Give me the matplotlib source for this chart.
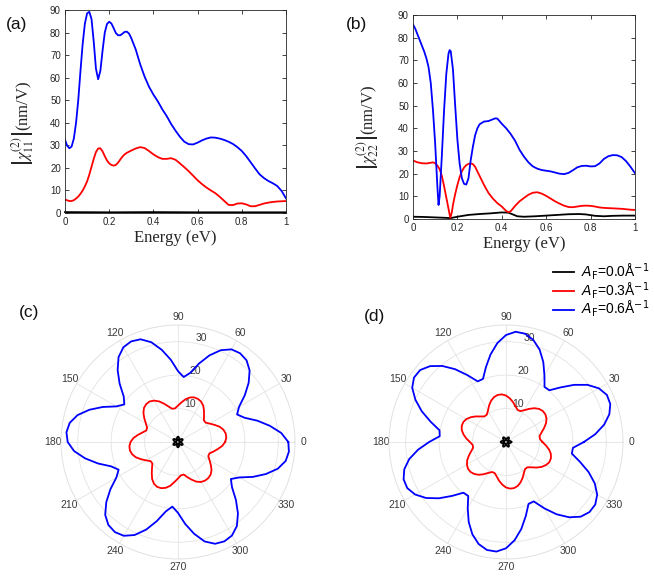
import numpy as np
import matplotlib
matplotlib.use('Agg')
import matplotlib.pyplot as plt
from matplotlib.font_manager import FontProperties

# ---------------- data: panel (a) |chi11| vs energy ----------------
energy_a = [0.00, 0.01, 0.02, 0.03, 0.04, 0.05, 0.06, 0.07, 0.08, 0.09,
            0.10, 0.11, 0.12, 0.13, 0.14, 0.15, 0.16, 0.17, 0.18, 0.19,
            0.20, 0.21, 0.22, 0.23, 0.24, 0.25, 0.26, 0.27, 0.28, 0.29,
            0.30, 0.32, 0.34, 0.36, 0.38, 0.40, 0.42, 0.44, 0.46, 0.48,
            0.50, 0.52, 0.54, 0.56, 0.58, 0.60, 0.62, 0.64, 0.66, 0.68,
            0.70, 0.72, 0.74, 0.76, 0.78, 0.80, 0.82, 0.84, 0.86, 0.88,
            0.90, 0.92, 0.94, 0.96, 0.98, 1.00]
chi11_A06 = [32.4, 29.8, 28.7, 29.5, 33, 40, 50, 63, 75, 84,
             88.5, 89.2, 86, 76, 64, 59.3, 63, 72, 80, 83.8,
             84.8, 84, 82, 79.8, 78.8, 78.8, 79.5, 80.3, 80.4, 79.5,
             77.5, 72.5, 66, 60.5, 56, 52.5, 49.5, 46, 43, 39.5,
             36.5, 33.8, 31.6, 30.5, 30.4, 31.2, 32.2, 33, 33.5, 33.4,
             33, 32.4, 31.6, 30.6, 29.2, 27.5, 25.2, 22.5, 19.8, 17.2,
             15.5, 14.2, 13.2, 12, 9.8, 6.5]
chi11_A03 = [6.0, 5.6, 5.3, 5.3, 5.7, 6.4, 7.3, 8.5, 10, 11.8,
             14, 17, 20.5, 24, 27, 28.6, 28.7, 27.3, 25.2, 23.3,
             22, 21.3, 21, 21.3, 22.3, 23.7, 25, 26, 26.7, 27.2,
             27.7, 28.6, 29.2, 28.8, 27.5, 26, 24.8, 24, 24, 24.3,
             23.6, 22, 20.3, 18.5, 16.5, 14.5, 12.8, 11.3, 10, 8.8,
             7.2, 5.4, 3.6, 3.5, 4.2, 4.3, 3.8, 3.0, 3.0, 3.6,
             4.2, 4.6, 4.9, 5.1, 5.2, 5.3]
energy_a0 = [0.0, 0.2, 0.4, 0.6, 0.8, 1.0]
chi11_A00 = [0.4, 0.3, 0.4, 0.3, 0.3, 0.3]

# ---------------- data: panel (b) |chi22| vs energy ----------------
energy_b_A06 = [0.00, 0.01, 0.02, 0.03, 0.04, 0.05, 0.06, 0.07, 0.08, 0.09,
                0.10, 0.11, 0.115, 0.12, 0.13, 0.14, 0.15, 0.16, 0.165, 0.17,
                0.18, 0.19, 0.20, 0.21, 0.22, 0.23, 0.24, 0.25, 0.26, 0.27,
                0.28, 0.29, 0.30, 0.32, 0.34, 0.36, 0.37, 0.38,
                0.40, 0.42, 0.44, 0.46, 0.48, 0.50, 0.52, 0.54, 0.56, 0.58,
                0.60, 0.62, 0.64, 0.66, 0.68, 0.70, 0.72, 0.74, 0.76, 0.78,
                0.80, 0.82, 0.84, 0.86, 0.88, 0.90, 0.92, 0.94, 0.96, 0.98, 1.00]
chi22_A06 = [85.9, 84, 81.5, 79, 76.5, 74, 71, 67, 60, 48,
             33, 14, 6.2, 10, 28, 48, 64, 73, 74.5, 74,
             66, 50, 35, 24.5, 18, 15.5, 15.2, 18, 26, 32,
             37, 40, 41.8, 43, 43.2, 44, 44.4, 44.3,
             42, 40, 37.5, 34.5, 30.5, 27.5, 25, 23.2, 22.2, 21.6,
             21.3, 21, 20.5, 20, 19.8, 20.3, 21.5, 22.8, 23.4, 23.5,
             23.2, 23.3, 24.5, 26.5, 27.7, 28.2, 28.1, 27.3, 25.5, 23, 20.2]
energy_b_A03 = [0.00, 0.02, 0.04, 0.06, 0.08, 0.09, 0.10, 0.11, 0.12, 0.13,
                0.14, 0.15, 0.16, 0.168, 0.175, 0.18, 0.19, 0.20, 0.21, 0.22,
                0.23, 0.24, 0.25, 0.26, 0.27, 0.28, 0.29, 0.30, 0.32, 0.34,
                0.36, 0.38, 0.40, 0.42, 0.43, 0.44,
                0.46, 0.48, 0.50, 0.52, 0.54, 0.56, 0.58, 0.60, 0.62, 0.64,
                0.66, 0.68, 0.70, 0.72, 0.74, 0.76, 0.78, 0.80, 0.82, 0.84,
                0.86, 0.88, 0.90, 0.92, 0.94, 0.96, 0.98, 1.00]
chi22_A03 = [25.8, 25, 24.6, 24.5, 24.8, 25, 24.6, 23.5, 22, 19,
             14.5, 9.5, 4.5, 0.5, 3, 6.2, 11, 15, 18.5, 21,
             22.7, 23.8, 24.3, 24.5, 24.2, 23, 21, 19, 15, 11.5,
             9, 7, 5.5, 3.5, 3.0, 3.4,
             5.8, 7.8, 9.3, 10.7, 11.6, 11.8, 11.2, 10.2, 9, 7.8,
             6.8, 5.9, 5.3, 5.2, 5.5, 5.8, 5.9, 5.8, 5.5, 5.1,
             4.9, 4.8, 4.7, 4.6, 4.5, 4.3, 4.1, 4.0]
energy_b_A00 = [0, 0.05, 0.1, 0.15, 0.17, 0.2, 0.25, 0.3, 0.35, 0.4,
                0.43, 0.45, 0.47, 0.5, 0.55, 0.6, 0.65, 0.7, 0.75, 0.78,
                0.82, 0.86, 0.9, 0.95, 1.0]
chi22_A00 = [1.0, 0.9, 0.7, 0.5, 0.4, 1.0, 1.8, 2.2, 2.5, 2.9,
             2.8, 2.0, 1.2, 1.0, 1.2, 1.5, 1.8, 2.1, 2.2, 2.0,
             1.4, 1.2, 1.4, 1.5, 1.5]

# ---------------- data: polar panels (angle in degrees) ----------------
angles_deg = list(range(0, 360, 5))
polar_c_A06 = [33.0, 31.0, 27.9, 24.6, 21.2, 19.5, 21.1, 24.4, 27.6, 30.3, 31.9, 32.4,
               32.0, 30.3, 27.6, 24.3, 21.0, 19.5, 21.2, 24.7, 28.0, 30.9, 32.7, 33.2,
               32.7, 31.0, 28.1, 24.7, 21.2, 19.6, 21.3, 24.8, 28.2, 31.1, 32.9, 33.5,
               33.0, 31.2, 28.2, 24.8, 21.3, 19.6, 21.3, 24.7, 28.0, 30.8, 32.4, 32.9,
               32.4, 30.7, 27.9, 24.5, 21.1, 19.4, 21.2, 24.6, 27.9, 30.8, 32.4, 32.8,
               32.3, 30.7, 27.9, 24.5, 21.1, 19.3, 21.2, 24.7, 28.0, 30.9, 32.7, 33.3]
polar_c_A03 = [14.1, 14.5, 14.5, 14.1, 13.3, 12.1, 11.0, 10.1, 10.1, 11.0, 12.1, 13.2,
               13.9, 14.2, 14.2, 13.8, 13.0, 11.9, 10.9, 10.1, 10.1, 11.0, 12.2, 13.4,
               14.3, 14.8, 14.8, 14.4, 13.5, 12.3, 11.1, 10.2, 10.1, 11.0, 12.2, 13.4,
               14.2, 14.6, 14.6, 14.2, 13.4, 12.2, 11.0, 10.0, 10.0, 11.0, 12.2, 13.5,
               14.4, 14.8, 14.7, 14.2, 13.3, 12.0, 10.9, 10.0, 9.9, 10.9, 12.0, 13.1,
               13.8, 14.1, 14.1, 13.8, 13.1, 12.0, 10.9, 10.0, 10.0, 11.0, 12.1, 13.3]
polar_c_A00 = [0.5, 0.64, 0.92, 1.18, 1.41, 1.55, 1.6, 1.55, 1.41, 1.18, 0.92, 0.64,
               0.5, 0.64, 0.92, 1.18, 1.41, 1.55, 1.6, 1.55, 1.41, 1.18, 0.92, 0.64,
               0.5, 0.64, 0.92, 1.18, 1.41, 1.55, 1.6, 1.55, 1.41, 1.18, 0.92, 0.64,
               0.5, 0.64, 0.92, 1.18, 1.41, 1.55, 1.6, 1.55, 1.41, 1.18, 0.92, 0.64,
               0.5, 0.64, 0.92, 1.18, 1.41, 1.55, 1.6, 1.55, 1.41, 1.18, 0.92, 0.64,
               0.5, 0.64, 0.92, 1.18, 1.41, 1.55, 1.6, 1.55, 1.41, 1.18, 0.92, 0.64]
polar_d_A06 = [23.3, 26.8, 29.8, 32.0, 33.2, 33.3, 32.1, 29.8, 26.6, 23.1, 20.2, 20.1,
               23.0, 26.4, 29.4, 31.6, 32.9, 33.1, 32.0, 29.7, 26.6, 23.2, 20.1, 20.0,
               23.1, 26.6, 29.7, 32.1, 33.5, 33.6, 32.4, 29.9, 26.8, 23.3, 20.2, 19.9,
               23.0, 26.4, 29.4, 31.5, 32.6, 32.6, 31.4, 29.2, 26.2, 22.8, 19.8, 19.7,
               22.9, 26.4, 29.4, 31.6, 32.8, 32.9, 31.8, 29.5, 26.4, 22.9, 19.7, 19.6,
               22.9, 26.4, 29.4, 31.6, 32.6, 32.6, 31.5, 29.3, 26.3, 22.9, 20.0, 20.1]
polar_d_A03 = [10.9, 10.2, 10.2, 11.0, 12.1, 13.2, 14.0, 14.4, 14.4, 14.0, 13.2, 12.1,
               11.0, 10.2, 10.2, 11.0, 12.1, 13.1, 13.9, 14.3, 14.3, 13.9, 13.1, 12.0,
               10.8, 10.0, 10.0, 10.8, 11.9, 12.9, 13.7, 14.1, 14.1, 13.7, 12.9, 11.9,
               10.8, 10.0, 10.0, 10.8, 11.8, 12.8, 13.5, 13.9, 13.9, 13.5, 12.8, 11.8,
               10.7, 9.9, 9.9, 10.7, 11.8, 12.8, 13.6, 14.0, 14.0, 13.6, 12.8, 11.8,
               10.7, 9.9, 9.9, 10.7, 11.9, 13.0, 13.8, 14.3, 14.3, 13.9, 13.1, 12.0]
polar_d_A00 = [1.6, 1.55, 1.41, 1.18, 0.92, 0.64, 0.5, 0.64, 0.92, 1.18, 1.41, 1.55,
               1.6, 1.55, 1.41, 1.18, 0.92, 0.64, 0.5, 0.64, 0.92, 1.18, 1.41, 1.55,
               1.6, 1.55, 1.41, 1.18, 0.92, 0.64, 0.5, 0.64, 0.92, 1.18, 1.41, 1.55,
               1.6, 1.55, 1.41, 1.18, 0.92, 0.64, 0.5, 0.64, 0.92, 1.18, 1.41, 1.55,
               1.6, 1.55, 1.41, 1.18, 0.92, 0.64, 0.5, 0.64, 0.92, 1.18, 1.41, 1.55,
               1.6, 1.55, 1.41, 1.18, 0.92, 0.64, 0.5, 0.64, 0.92, 1.18, 1.41, 1.55]

x_ticks = [0, 0.2, 0.4, 0.6, 0.8, 1]
x_ticklabels = ['0', '0.2', '0.4', '0.6', '0.8', '1']
y_ticks = [0, 10, 20, 30, 40, 50, 60, 70, 80, 90]
theta_ticks = list(range(0, 360, 30))
r_ticks = [10, 20, 30]
legend_labels = [r'$A_\mathrm{F}$=0.0Å$^{-1}$', r'$A_\mathrm{F}$=0.3Å$^{-1}$',
                 r'$A_\mathrm{F}$=0.6Å$^{-1}$']

BLUE, RED, BLACK = '#0000ff', '#ff0000', '#000000'
TXT = '#262626'

plt.rcParams['font.family'] = ['Liberation Sans', 'DejaVu Sans']

W, H = 654, 576
fig = plt.figure(figsize=(W / 100, H / 100), dpi=100)


def rect(l, t, r, b):
    return [l / W, 1 - b / H, (r - l) / W, (b - t) / H]


serif = FontProperties(family='Liberation Serif', size=12, math_fontfamily='stix')


def line_axes(l, t, r, b, ylab, lab_x, lab_y):
    ax = fig.add_axes(rect(l, t, r, b))
    ax.set_xlim(0, 1)
    ax.set_ylim(0, 90)
    ax.set_xticks(x_ticks)
    ax.set_xticklabels(x_ticklabels)
    ax.set_yticks(y_ticks)
    ax.tick_params(direction='in', length=3, width=0.6, labelsize=7,
                   colors=TXT, top=True, right=True, pad=3)
    for s in ax.spines.values():
        s.set_color(TXT)
        s.set_linewidth(0.6)
    ax.set_xlabel('Energy (eV)', fontproperties=serif, color=TXT, labelpad=2)
    ax.set_ylabel(ylab, fontproperties=serif, color=TXT, va='center')
    ax.yaxis.set_label_coords((lab_x - l) / (r - l), (b - lab_y) / (b - t))
    return ax


axa = line_axes(65, 10, 286, 213, r'$\left|\chi^{(2)}_{11}\right|$(nm/V)', 23, 123)
axa.plot(energy_a0, chi11_A00, color=BLACK, lw=1.3, clip_on=False)
axa.plot(energy_a, chi11_A03, color=RED, lw=1.3)
axa.plot(energy_a, chi11_A06, color=BLUE, lw=1.3)

axb = line_axes(413, 15, 635, 219, r'$\left|\chi^{(2)}_{22}\right|$(nm/V)', 368, 127)
axb.plot(energy_b_A00, chi22_A00, color=BLACK, lw=1.3)
axb.plot(energy_b_A03, chi22_A03, color=RED, lw=1.3)
axb.plot(energy_b_A06, chi22_A06, color=BLUE, lw=1.3)


def polar_axes(cx, cy, R, series):
    ax = fig.add_axes(rect(cx - R, cy - R, cx + R, cy + R), projection='polar')
    th = np.deg2rad(angles_deg + [360])
    handles = []
    for vals, col in series:
        h, = ax.plot(th, vals + [vals[0]], color=col, lw=1.3)
        handles.append(h)
    ax.set_ylim(0, 35)
    ax.set_yticks(r_ticks)
    ax.set_yticklabels([str(v) for v in r_ticks])
    ax.set_rlabel_position(80)
    ax.set_xticks(np.deg2rad(theta_ticks))
    ax.set_xticklabels([str(v) for v in theta_ticks])
    ax.grid(True, color='#e3e3e3', lw=0.6)
    ax.spines['polar'].set_color('#dcdcdc')
    ax.spines['polar'].set_linewidth(0.6)
    ax.tick_params(axis='x', pad=-1, length=0, labelsize=7.5, colors='#3a3a3a')
    ax.tick_params(axis='y', labelsize=7.5, colors='#3a3a3a', pad=0)
    return ax, handles


axc, _ = polar_axes(178, 442, 117, [(polar_c_A00, BLACK), (polar_c_A03, RED), (polar_c_A06, BLUE)])
axd, hd = polar_axes(506, 442, 117, [(polar_d_A00, BLACK), (polar_d_A03, RED), (polar_d_A06, BLUE)])

legprop = FontProperties(family='Liberation Sans', size=10, math_fontfamily='dejavusans')
fig.legend(hd, legend_labels, loc='upper left', bbox_to_anchor=(553 / W, 1 - 261 / H),
           frameon=False, prop=legprop, handlelength=1.5, handletextpad=0.5,
           labelspacing=-0.12, borderaxespad=0, borderpad=0)

for lab, (px, py) in zip(['(a)', '(b)', '(c)', '(d)'],
                         [(17, 24), (357, 24), (29, 313), (374, 317)]):
    fig.text(px / W, 1 - py / H, lab, fontsize=12.5, ha='center', va='center', color='#111111')

fig.savefig('out.png', dpi=100)
